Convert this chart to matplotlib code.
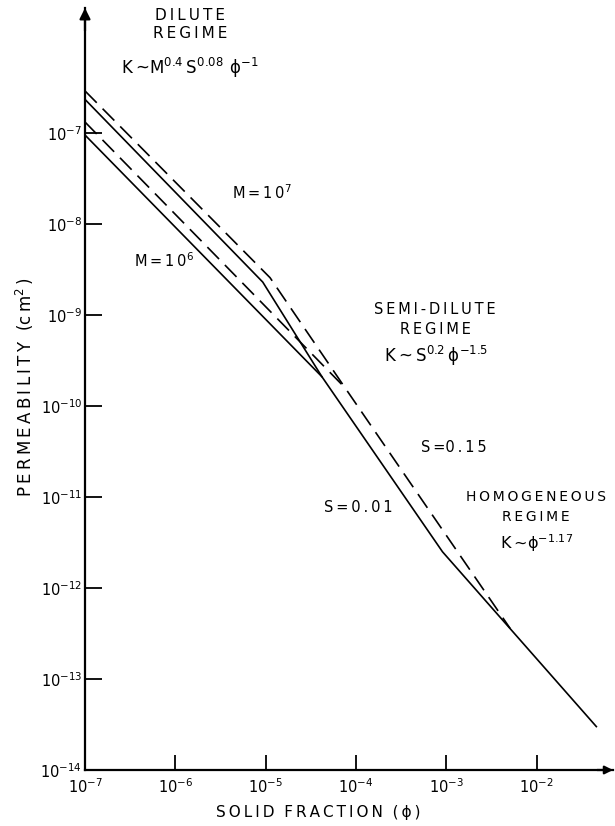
import matplotlib
matplotlib.use("Agg")
import matplotlib.pyplot as plt

# ---- data: breakpoints (phi, K in cm^2) ----
# solid lines: S = 0.01 ; dashed lines: S = 0.15
m7_s001_phi = [1e-7, 9.3e-6, 4.2e-5, 9.1e-4, 4.6e-2]
m7_s001_K = [2.34e-7, 2.3e-9, 2.1e-10, 2.5e-12, 3.0e-14]

m6_s001_phi = [1e-7, 4.2e-5]
m6_s001_K = [9.5e-8, 2.1e-10]

m7_s015_phi = [1e-7, 1.12e-5, 7.6e-5, 5.1e-3]
m7_s015_K = [2.9e-7, 2.57e-9, 1.58e-10, 3.6e-13]

m6_s015_phi = [1e-7, 7.6e-5]
m6_s015_K = [1.32e-7, 1.58e-10]

xticks = [1e-7, 1e-6, 1e-5, 1e-4, 1e-3, 1e-2]
xticklabels = [r"$\mathregular{10^{-7}}$", r"$\mathregular{10^{-6}}$", r"$\mathregular{10^{-5}}$",
               r"$\mathregular{10^{-4}}$", r"$\mathregular{10^{-3}}$", r"$\mathregular{10^{-2}}$"]
yticks = [1e-14, 1e-13, 1e-12, 1e-11, 1e-10, 1e-9, 1e-8, 1e-7]
yticklabels = [r"$\mathregular{10^{-14}}$", r"$\mathregular{10^{-13}}$", r"$\mathregular{10^{-12}}$",
               r"$\mathregular{10^{-11}}$", r"$\mathregular{10^{-10}}$", r"$\mathregular{10^{-9}}$",
               r"$\mathregular{10^{-8}}$", r"$\mathregular{10^{-7}}$"]

W, H = 615, 826
fig = plt.figure(figsize=(W / 100, H / 100), dpi=100)
left, right, bottom, top = 85, 613, 770, 8
ax = fig.add_axes([left / W, 1 - bottom / H, (right - left) / W, (bottom - top) / H])
ax.set_xscale("log")
ax.set_yscale("log")
ax.set_xlim(1e-7, 10 ** (-7 + (right - left) / 90.3))
ax.set_ylim(1e-14, 10 ** (-14 + (bottom - top) / 91.0))

lw = 1.2
ax.plot(m7_s001_phi, m7_s001_K, color="k", lw=lw)
ax.plot(m6_s001_phi, m6_s001_K, color="k", lw=lw)
ax.plot(m7_s015_phi, m7_s015_K, color="k", lw=lw, ls=(0, (10, 5)))
ax.plot(m6_s015_phi, m6_s015_K, color="k", lw=lw, ls=(0, (10, 5)))

for s in ["top", "right"]:
    ax.spines[s].set_visible(False)
for s in ["left", "bottom"]:
    ax.spines[s].set_linewidth(1.6)

ax.annotate("", xy=(0, 1), xytext=(0, 0.97), xycoords="axes fraction",
            arrowprops=dict(arrowstyle="-|>", lw=1.6, color="k", mutation_scale=16,
                            shrinkA=0, shrinkB=0))
ax.annotate("", xy=(1, 0), xytext=(0.97, 0), xycoords="axes fraction",
            arrowprops=dict(arrowstyle="-|>", lw=1.6, color="k", mutation_scale=12,
                            shrinkA=0, shrinkB=0))

ax.set_xticks(xticks)
ax.set_xticklabels(xticklabels)
ax.set_yticks(yticks)
ax.set_yticklabels(yticklabels)
ax.minorticks_off()
ax.tick_params(axis="y", direction="in", length=12, width=1.3, pad=2, labelsize=10.5)
ax.tick_params(axis="x", direction="in", length=11, width=1.3, pad=5, labelsize=10.5)

TS = "\u2009"


def sp(s):
    words = s.split(" ")
    return " ".join(TS.join(w) for w in words)


def ft(x, y, s, **kw):
    fig.text(x / W, 1 - y / H, s, ha=kw.pop("ha", "center"), va=kw.pop("va", "center"),
             fontsize=kw.pop("fontsize", 10.5), **kw)


PHI = "\u03d5"
ft(190, 15, sp("DILUTE"), fontsize=11)
ft(190, 34, sp("REGIME"), fontsize=11)
ft(190, 68, "K" + TS + "~M$^{\\mathregular{0.4}}$" + TS + "S$^{\\mathregular{0.08}}$" + TS + TS + PHI
   + "$^{\\mathregular{-1}}$", fontsize=12)
ft(262, 193, "M" + TS + "=" + TS + sp("10") + "$^{\\mathregular{7}}$")
ft(164, 261, "M" + TS + "=" + TS + sp("10") + "$^{\\mathregular{6}}$")
ft(435, 310, sp("SEMI-DILUTE"))
ft(435, 329, sp("REGIME"))
ft(436, 356, "K" + TS + "~" + TS + "S$^{\\mathregular{0.2}}$" + TS + PHI
   + "$^{\\mathregular{-1.5}}$", fontsize=12)
ft(454, 447, "S" + TS + "=" + sp("0.15"))
ft(358, 508, "S" + TS + "=" + TS + sp("0.01"))
ft(536, 497, sp("HOMOGENEOUS"), fontsize=10)
ft(536, 517, sp("REGIME"), fontsize=10)
ft(537, 543, "K" + TS + "~" + PHI + "$^{\\mathregular{-1.17}}$", fontsize=11.5)
ft(25, 387, sp("PERMEABILITY") + "  (" + sp("cm") + "$^{\\mathregular{2}}$" + TS + ")",
   rotation=90, fontsize=12)
ft(318, 813, sp("SOLID") + "  " + sp("FRACTION") + "  (" + TS + PHI + TS + ")", fontsize=11)

fig.savefig("out.png", dpi=100)
